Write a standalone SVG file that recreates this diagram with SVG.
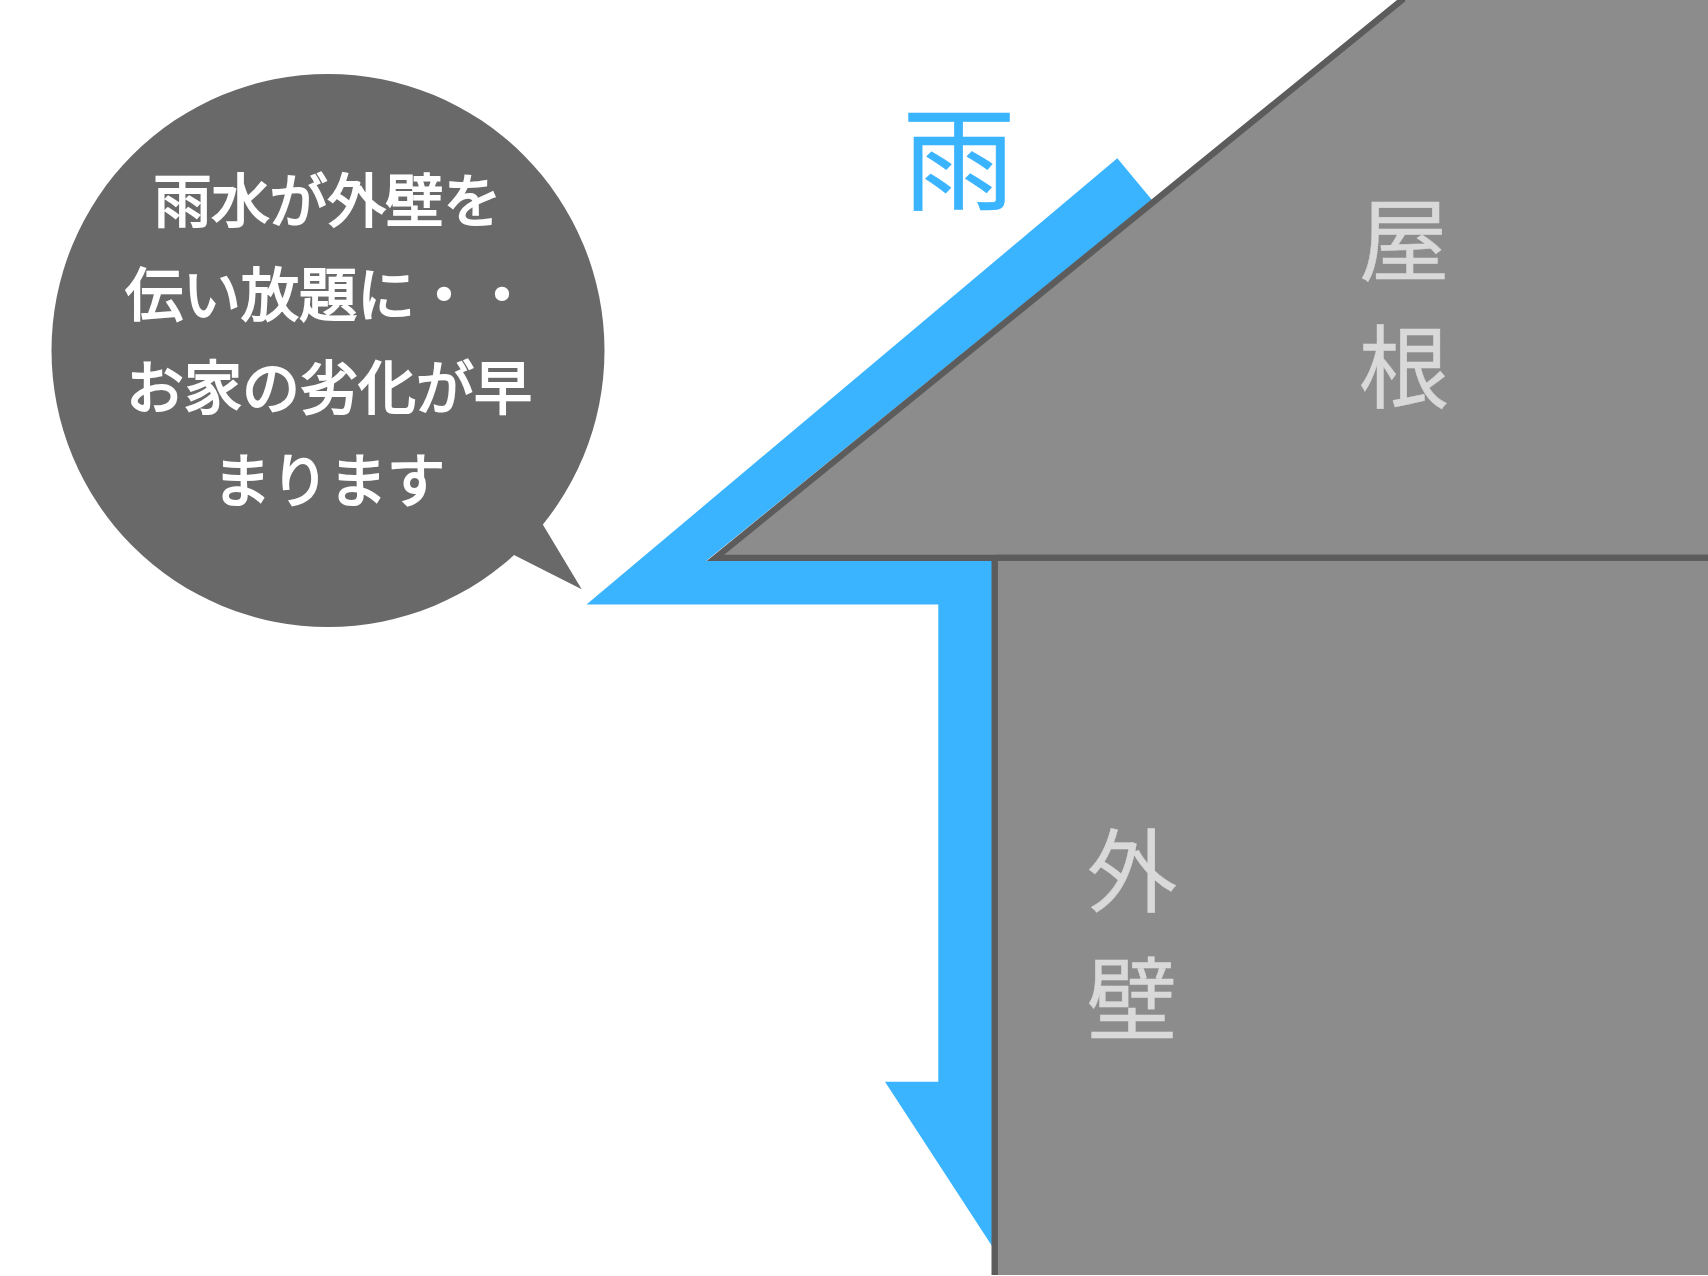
<svg xmlns="http://www.w3.org/2000/svg" width="1708" height="1276" viewBox="0 0 1708 1276">
<style>
text{font-family:"Noto Sans CJK JP","Noto Sans CJK SC",sans-serif;text-anchor:middle;font-weight:400}
.part{fill:#8c8c8c;stroke:#5c5c5c;stroke-width:6.3}
.label{font-size:90.5px;fill:#d9d9d9;stroke:#d9d9d9;stroke-width:.4}
.say{font-size:58px;fill:#fff;stroke:#fff;stroke-width:2}
.rain{font-size:112.5px;fill:#3bb4ff;stroke:#3bb4ff;stroke-width:.6}
</style>
<rect width="1708" height="1276" fill="#fff"/>
<g id="rain-flow"><polygon points="586.5,604.5 1117.3,158.3 1152,200 706,561 992,561 992,1246 885,1081.7 938.3,1081.7 938.3,604.5" fill="#3bb4ff"/></g>
<g id="roof"><polygon class="part" points="715.4,557.85 1402,0 1402,-10 1720,-10 1720,557.85"/>
<text class="label" x="1404" y="274">屋</text><text class="label" x="1404" y="401">根</text></g>
<g id="wall"><path d="M994.5 558H1708V1275H994.5Z" fill="#8c8c8c"/><path d="M994.7 558V1275" fill="none" stroke="#5c5c5c" stroke-width="6.4"/><path d="M994.5 557.85H1708" fill="none" stroke="#5c5c5c" stroke-width="6.3"/>
<text class="label" x="1132" y="905">外</text><text class="label" x="1132" y="1033">壁</text></g>
<g id="rain-label"><text class="rain" x="959" y="201">雨</text></g>
<g id="bubble"><circle cx="328" cy="350.5" r="276.5" fill="#696969"/><polygon points="542.5,524 581.7,589.3 513,554.5 480,450" fill="#696969"/>
<text class="say" x="327.5" y="222">雨水が外壁を</text>
<text class="say" x="328" y="315.5">伝い放題に・・</text>
<text class="say" x="329" y="409">お家の劣化が早</text>
<text class="say" x="329" y="502">まります</text></g>
</svg>
